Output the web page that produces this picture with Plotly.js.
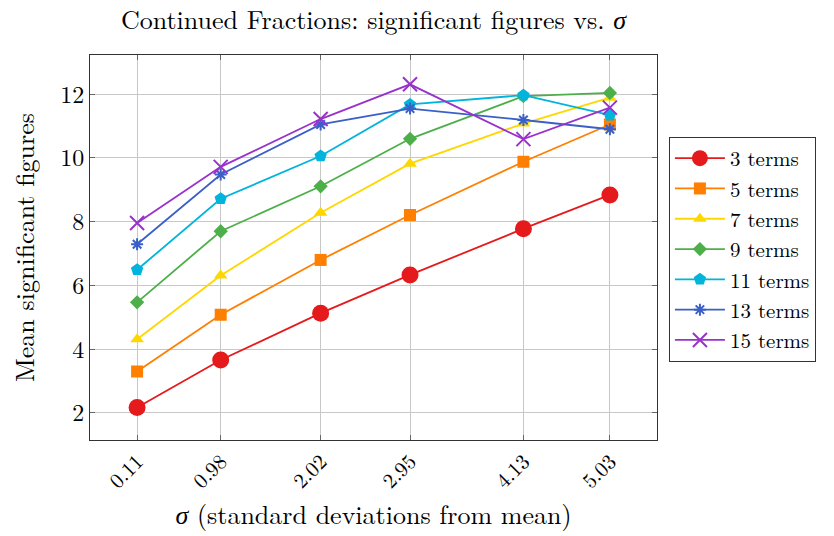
<!DOCTYPE html>
<html>
<head>
<meta charset="utf-8">
<script src="https://cdn.plot.ly/plotly-3.0.1.min.js"></script>
<style>
  html, body { margin: 0; padding: 0; background: #fff; }
  #chart { width: 834px; height: 536px; }
</style>
</head>
<body>
<div id="chart"></div>
<script>
// Sigma values (standard deviations from mean) used as x positions and tick labels
const sigma = [0.11, 0.98, 2.02, 2.95, 4.13, 5.03];
const sigmaLabels = ["0.11", "0.98", "2.02", "2.95", "4.13", "5.03"];

// Mean significant figures for each number of continued-fraction terms
const terms3  = [2.17, 3.66, 5.13, 6.33, 7.78, 8.84];
const terms5  = [3.30, 5.08, 6.80, 8.21, 9.88, 11.05];
const terms7  = [4.31, 6.31, 8.28, 9.82, 11.08, 11.89];
const terms9  = [5.47, 7.70, 9.11, 10.60, 11.94, 12.04];
const terms11 = [6.49, 8.72, 10.06, 11.68, 11.97, 11.34];
const terms13 = [7.29, 9.48, 11.05, 11.55, 11.19, 10.90];
const terms15 = [7.96, 9.72, 11.22, 12.31, 10.59, 11.58];

const seriesNames = ["3 terms", "5 terms", "7 terms", "9 terms", "11 terms", "13 terms", "15 terms"];

const serif = "'Latin Modern Roman', 'CMU Serif', 'Liberation Serif', 'DejaVu Serif', serif";

const styles = [
  { color: "#e41a1c", symbol: "circle",         size: 17 },
  { color: "#ff7f00", symbol: "square",         size: 12 },
  { color: "#ffd700", symbol: "triangle-up",    size: 12 },
  { color: "#4daf4a", symbol: "diamond",        size: 11 },
  { color: "#00b4dc", symbol: "pentagon",       size: 13 },
  { color: "#3a60c8", symbol: "asterisk-open",  size: 10 },
  { color: "#9932cc", symbol: "x-thin-open",    size: 14 }
];

const values = [terms3, terms5, terms7, terms9, terms11, terms13, terms15];

const traces = values.map((ys, i) => ({
  type: "scatter",
  mode: "lines+markers",
  name: seriesNames[i],
  x: sigma,
  y: ys,
  line: { color: styles[i].color, width: 1.8 },
  marker: {
    color: styles[i].color,
    symbol: styles[i].symbol,
    size: styles[i].size,
    line: { color: styles[i].color, width: (styles[i].symbol.endsWith("open") ? 2 : 0) }
  }
}));

const layout = {
  width: 834,
  height: 536,
  paper_bgcolor: "#ffffff",
  plot_bgcolor: "#ffffff",
  margin: { l: 90, r: 177, t: 55, b: 96 },
  font: { family: serif, size: 22, color: "#000" },
  title: {
    text: "Continued Fractions: significant figures vs. <i>σ</i>",
    font: { family: serif, size: 26, color: "#000" },
    x: 0.5, xref: "paper", xanchor: "center",
    y: 0.963, yanchor: "middle"
  },
  xaxis: {
    range: [-0.38, 5.52],
    tickmode: "array",
    tickvals: sigma,
    ticktext: sigmaLabels,
    tickangle: -45,
    ticks: "inside",
    ticklen: 5,
    tickcolor: "#666",
    showgrid: true,
    gridcolor: "#c8c8c8",
    gridwidth: 1,
    zeroline: false,
    showline: true,
    linecolor: "#333",
    linewidth: 1,
    mirror: "allticks",
    tickfont: { family: serif, size: 21 },
    title: {
      text: "<i>σ</i> (standard deviations from mean)",
      font: { family: serif, size: 26 },
      standoff: 13
    }
  },
  yaxis: {
    range: [1.15, 13.23],
    tickvals: [2, 4, 6, 8, 10, 12],
    ticks: "inside",
    ticklen: 5,
    tickcolor: "#666",
    showgrid: true,
    gridcolor: "#c8c8c8",
    gridwidth: 1,
    zeroline: false,
    showline: true,
    linecolor: "#333",
    linewidth: 1,
    mirror: "allticks",
    tickfont: { family: serif, size: 24 },
    title: {
      text: "Mean significant figures",
      font: { family: serif, size: 26 },
      standoff: 18
    }
  },
  showlegend: true,
  legend: {
    x: 1.021, xanchor: "left",
    y: 0.787, yanchor: "top",
    bgcolor: "#ffffff",
    bordercolor: "#333",
    borderwidth: 1,
    font: { family: serif, size: 21 },
    itemwidth: 50
  }
};

Plotly.newPlot("chart", traces, layout, { displayModeBar: false, staticPlot: true });
</script>
</body>
</html>
